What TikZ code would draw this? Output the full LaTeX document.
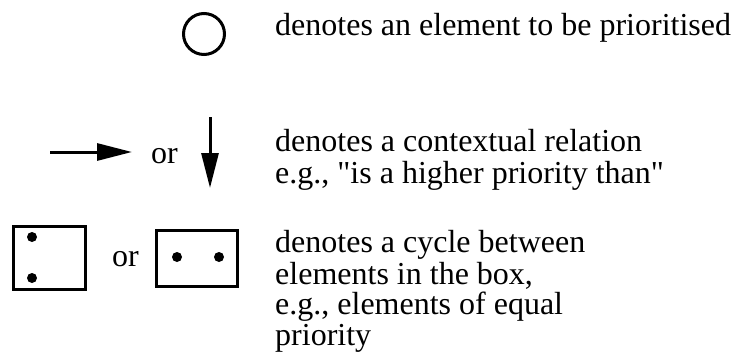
\documentclass[tikz,border=0pt]{standalone}
\usepackage{fontspec}
\setmainfont{Liberation Serif}[Ligatures=TeXOff]
\usetikzlibrary{arrows.meta}
\begin{document}
\begin{tikzpicture}[x=1pt,y=-1pt,
  txt/.style={anchor=base west,inner sep=0pt,font=\fontsize{32}{34}\selectfont},
  ln/.style={line width=3pt},
  dotm/.style={circle,fill=black,inner sep=0pt,minimum size=10pt},
  arr/.style={line width=3pt,-{Triangle[length=35pt,width=17pt]}}]
\useasboundingbox (0,0) rectangle (737,356);
% row 1
\node[draw,circle,line width=3pt,minimum size=41pt,inner sep=0pt] (c1) at (204,34) {};
\node[txt] (t1) at (275,35) {denotes an element to be prioritised};
% row 2
\coordinate (ha) at (50,152);
\coordinate (hb) at (132,152);
\draw[arr] (ha) -- (hb);
\node[txt] (or1) at (151,163) {or};
\coordinate (va) at (210,117);
\coordinate (vb) at (210,188);
\draw[arr] (va) -- (vb);
\node[txt] (t2a) at (275,151) {denotes a contextual relation};
\node[txt] (t2b) at (275,183) {e.g., "is a higher priority than"};
% row 3
\draw[ln] (13,226) rectangle (85,289);
\node[dotm] (d1) at (32,237) {};
\node[dotm] (d2) at (32,278) {};
\node[txt] (or2) at (112,266) {or};
\draw[ln] (156,230) rectangle (237,286);
\node[dotm] (d3) at (177,257) {};
\node[dotm] (d4) at (219,257) {};
\node[txt] (t3a) at (275,252) {denotes a cycle between};
\node[txt] (t3b) at (275,284) {elements in the box,};
\node[txt] (t3c) at (275,314) {e.g., elements of equal};
\node[txt] (t3d) at (275,345) {priority};
\end{tikzpicture}
\end{document}
